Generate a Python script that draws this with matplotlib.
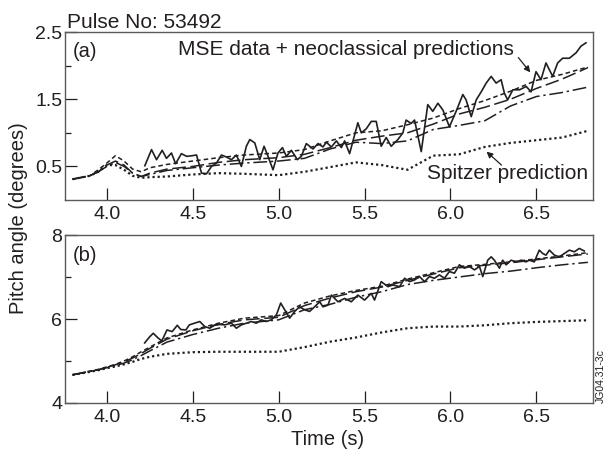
import matplotlib
matplotlib.use("Agg")
import matplotlib.pyplot as plt
from matplotlib.ticker import MultipleLocator, FixedLocator

plt.rcParams['font.family'] = ['Liberation Sans', 'DejaVu Sans']
INK = '#231f20'
FRAME = '#5a5a5a'

# common time grid for the model curves (s)
t_model = [3.80, 3.90, 3.95, 4.00, 4.05, 4.10, 4.15, 4.20, 4.25, 4.35, 4.50, 4.65, 4.80,
           5.00, 5.15, 5.30, 5.45, 5.60, 5.75, 5.90, 6.05, 6.20, 6.35, 6.50, 6.65, 6.80]

# panel (a) - pitch angle, inner channel (degrees)
a_nc_short = [0.31, 0.36, 0.45, 0.55, 0.66, 0.58, 0.46, 0.42, 0.48, 0.53, 0.58, 0.63, 0.67,
              0.70, 0.75, 0.88, 1.00, 1.03, 1.12, 1.22, 1.36, 1.48, 1.62, 1.78, 1.87, 1.98]
a_nc_long = [0.31, 0.36, 0.42, 0.52, 0.58, 0.52, 0.40, 0.35, 0.40, 0.46, 0.50, 0.56, 0.60,
             0.63, 0.68, 0.78, 0.89, 0.95, 1.00, 1.13, 1.28, 1.38, 1.50, 1.66, 1.80, 1.97]
a_nc_dashdot = [0.31, 0.36, 0.42, 0.50, 0.56, 0.50, 0.40, 0.35, 0.38, 0.44, 0.48, 0.52, 0.55,
                0.58, 0.62, 0.76, 0.86, 0.84, 0.88, 1.05, 1.11, 1.18, 1.40, 1.54, 1.60, 1.68]
a_spitzer = [0.31, 0.36, 0.42, 0.52, 0.52, 0.45, 0.36, 0.33, 0.34, 0.35, 0.38, 0.40, 0.39,
             0.37, 0.42, 0.49, 0.56, 0.52, 0.45, 0.66, 0.68, 0.79, 0.85, 0.89, 0.93, 1.03]

a_mse_t = [4.221, 4.260, 4.289, 4.322, 4.347, 4.376, 4.400, 4.434, 4.464, 4.498, 4.522, 4.551,
           4.580, 4.609, 4.638, 4.667, 4.696, 4.725, 4.754, 4.783, 4.812, 4.832, 4.861, 4.890,
           4.915, 4.938, 4.967, 4.996, 5.022, 5.045, 5.074, 5.109, 5.132, 5.161, 5.200, 5.229,
           5.258, 5.278, 5.307, 5.336, 5.365, 5.384, 5.413, 5.461, 5.481, 5.510, 5.539, 5.568,
           5.597, 5.626, 5.655, 5.694, 5.723, 5.742, 5.771, 5.791, 5.830, 5.868, 5.897, 5.927,
           5.956, 5.994, 6.033, 6.072, 6.091, 6.121, 6.150, 6.179, 6.208, 6.237, 6.266, 6.295,
           6.314, 6.333, 6.363, 6.402, 6.441, 6.469, 6.498, 6.527, 6.556, 6.595, 6.624, 6.653,
           6.692, 6.731, 6.760, 6.789]
a_mse = [0.51, 0.75, 0.60, 0.74, 0.62, 0.70, 0.54, 0.69, 0.65, 0.66, 0.67, 0.40,
         0.39, 0.50, 0.55, 0.67, 0.64, 0.60, 0.67, 0.50, 0.80, 0.90, 0.85, 0.60,
         0.80, 0.65, 0.45, 0.70, 0.78, 0.65, 0.74, 0.60, 0.65, 0.84, 0.76, 0.84,
         0.79, 0.86, 0.79, 0.88, 0.78, 0.88, 0.69, 1.15, 1.00, 1.06, 1.17, 1.17,
         0.80, 0.93, 0.80, 0.90, 1.00, 1.19, 1.14, 1.19, 0.72, 1.42, 1.32, 1.44,
         1.34, 1.09, 1.32, 1.57, 1.49, 1.24, 1.49, 1.61, 1.74, 1.84, 1.74, 1.79,
         1.59, 1.49, 1.64, 1.64, 1.69, 1.61, 1.91, 1.79, 2.04, 1.84, 2.04, 2.11,
         2.11, 2.19, 2.29, 2.34]

# panel (b) - pitch angle, outer channel (degrees)
b_nc_short = [4.67, 4.76, 4.80, 4.86, 4.92, 5.00, 5.10, 5.22, 5.33, 5.55, 5.74, 5.90, 6.02,
              6.08, 6.38, 6.55, 6.68, 6.78, 6.95, 7.10, 7.25, 7.30, 7.36, 7.43, 7.50, 7.58]
b_nc_long = [4.67, 4.75, 4.79, 4.85, 4.91, 4.98, 5.07, 5.18, 5.30, 5.52, 5.72, 5.87, 5.98,
             6.04, 6.32, 6.50, 6.65, 6.76, 6.92, 7.07, 7.22, 7.28, 7.34, 7.41, 7.48, 7.55]
b_nc_dashdot = [4.67, 4.75, 4.79, 4.84, 4.89, 4.95, 5.03, 5.13, 5.24, 5.45, 5.63, 5.78, 5.90,
                5.98, 6.22, 6.35, 6.52, 6.65, 6.82, 6.92, 7.00, 7.08, 7.14, 7.22, 7.29, 7.35]
b_spitzer = [4.67, 4.74, 4.78, 4.83, 4.87, 4.92, 4.98, 5.05, 5.10, 5.17, 5.21, 5.22, 5.22,
             5.22, 5.33, 5.46, 5.56, 5.68, 5.78, 5.82, 5.82, 5.85, 5.90, 5.93, 5.95, 5.97]

b_mse_t = [4.22, 4.25, 4.27, 4.30, 4.32, 4.35, 4.38, 4.41, 4.43, 4.46, 4.48, 4.51,
           4.541, 4.570, 4.599, 4.628, 4.657, 4.686, 4.725, 4.754, 4.783, 4.812, 4.841,
           4.870, 4.899, 4.928, 4.957, 4.987, 5.012, 5.035, 5.064, 5.093, 5.122, 5.151,
           5.180, 5.209, 5.239, 5.258, 5.287, 5.307, 5.345, 5.384, 5.423, 5.461, 5.500,
           5.539, 5.558, 5.597, 5.636, 5.665, 5.704, 5.733, 5.762, 5.791, 5.820, 5.849,
           5.878, 5.907, 5.936, 5.965, 5.994, 6.023, 6.052, 6.081, 6.110, 6.140, 6.169,
           6.188, 6.217, 6.237, 6.256, 6.285, 6.304, 6.324, 6.353, 6.382, 6.411, 6.440,
           6.459, 6.488, 6.517, 6.537, 6.556, 6.576, 6.605, 6.634, 6.663, 6.692, 6.721,
           6.750, 6.779]
b_mse = [5.43, 5.58, 5.66, 5.54, 5.48, 5.74, 5.70, 5.85, 5.75, 5.74, 5.86, 5.90,
         5.94, 5.82, 5.78, 5.86, 5.87, 5.86, 5.90, 5.78, 5.86, 5.90, 5.94,
         5.90, 5.98, 5.94, 5.98, 6.10, 6.38, 6.22, 6.02, 6.18, 6.29, 6.22,
         6.18, 6.29, 6.41, 6.29, 6.33, 6.57, 6.41, 6.49, 6.41, 6.57, 6.45,
         6.61, 6.45, 6.89, 6.77, 6.81, 6.77, 6.97, 6.89, 6.93, 7.01, 6.89,
         7.01, 6.97, 7.05, 6.97, 7.13, 7.09, 7.29, 7.21, 7.25, 7.17, 7.25,
         7.01, 7.40, 7.48, 7.40, 7.21, 7.40, 7.29, 7.40, 7.36, 7.40, 7.36,
         7.40, 7.36, 7.64, 7.56, 7.52, 7.64, 7.52, 7.48, 7.56, 7.64, 7.60,
         7.68, 7.62]

STYLE_SHORT = (0, (3.0, 2.0))
STYLE_LONG = (0, (9.0, 3.0))
STYLE_DASHDOT = (0, (9.0, 2.5, 1.5, 2.5))
STYLE_DOT = (0, (1.0, 1.3))


def draw_panel(ax, mse_t, mse, short, long_, dashdot, spitzer):
    ax.plot(t_model, short, color=INK, lw=1.1, ls=STYLE_SHORT)
    ax.plot(t_model, long_, color=INK, lw=1.1, ls=STYLE_LONG)
    ax.plot(t_model, dashdot, color=INK, lw=1.1, ls=STYLE_DASHDOT)
    ax.plot(t_model, spitzer, color=INK, lw=1.6, ls=STYLE_DOT, dash_capstyle='butt')
    ax.plot(mse_t, mse, color=INK, lw=1.2)
    ax.set_xlim(3.756, 6.83)
    ax.xaxis.set_major_locator(FixedLocator([4.0, 4.5, 5.0, 5.5, 6.0, 6.5]))
    ax.xaxis.set_major_formatter(plt.FormatStrFormatter('%.1f'))
    ax.tick_params(axis='both', which='both', direction='in', colors=INK,
                   labelsize=14, top=False, right=False)
    ax.tick_params(axis='both', which='major', length=8.5, width=0.9)
    ax.tick_params(axis='both', which='minor', length=4.5, width=0.9)
    ax.tick_params(axis='x', pad=4)
    ax.tick_params(axis='y', pad=2)
    for sp in ax.spines.values():
        sp.set_color(FRAME)
        sp.set_linewidth(1.0)


fig = plt.figure(figsize=(6.07, 4.55), dpi=100)
ax_a = fig.add_axes([0.107, 0.5604, 0.870, 0.3692])
ax_b = fig.add_axes([0.107, 0.1143, 0.870, 0.3692])

draw_panel(ax_a, a_mse_t, a_mse, a_nc_short, a_nc_long, a_nc_dashdot, a_spitzer)
draw_panel(ax_b, b_mse_t, b_mse, b_nc_short, b_nc_long, b_nc_dashdot, b_spitzer)

ax_a.set_ylim(0, 2.5)
ax_a.yaxis.set_major_locator(FixedLocator([0.5, 1.5, 2.5]))
ax_a.yaxis.set_minor_locator(FixedLocator([1.0, 2.0]))
ax_a.yaxis.set_major_formatter(plt.FormatStrFormatter('%.1f'))

ax_b.set_ylim(4, 8)
ax_b.yaxis.set_major_locator(MultipleLocator(2))
ax_b.yaxis.set_minor_locator(MultipleLocator(1))

ax_a.text(3.802, 2.21, "(a)", fontsize=14.5, color=INK, ha='left', va='center')
ax_b.text(3.802, 7.52, "(b)", fontsize=14.5, color=INK, ha='left', va='center')

ax_a.text(5.39, 2.24, "MSE data + neoclassical predictions", fontsize=15,
          color=INK, ha='center', va='center')
ax_a.annotate("", xy=(6.465, 1.90), xytext=(6.395, 2.12),
              arrowprops=dict(arrowstyle='-|>', color=INK, lw=0.9,
                              mutation_scale=9, shrinkA=0, shrinkB=0))
ax_a.text(6.80, 0.40, "Spitzer prediction", fontsize=15, color=INK,
          ha='right', va='center')
ax_a.annotate("", xy=(6.21, 0.72), xytext=(6.297, 0.52),
              arrowprops=dict(arrowstyle='-|>', color=INK, lw=0.9,
                              mutation_scale=9, shrinkA=0, shrinkB=0))

fig.text(0.110, 0.938, "Pulse No: 53492", fontsize=15, color=INK,
         ha='left', va='baseline')
fig.text(0.030, 0.521, "Pitch angle (degrees)", fontsize=14.5, color=INK,
         rotation=90, ha='center', va='center')
fig.text(0.539, 0.033, "Time (s)", fontsize=14.5, color=INK, ha='center', va='center')
fig.text(0.989, 0.114, "JG04.31-3c", fontsize=7.5, color=INK, rotation=90,
         ha='center', va='bottom')

fig.savefig("out.png", dpi=100)
